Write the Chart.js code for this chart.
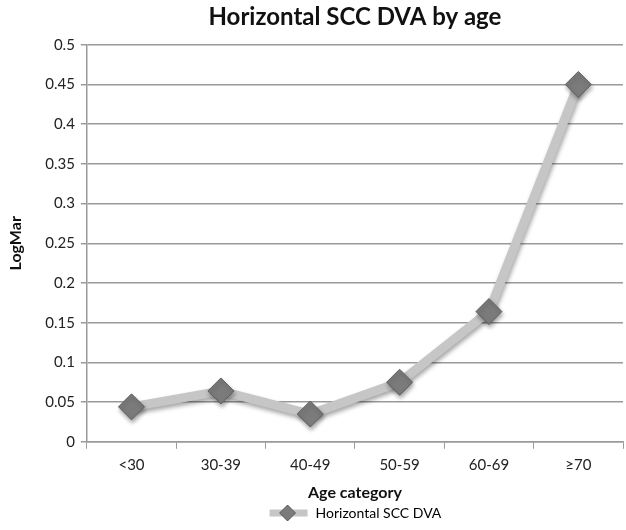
<!DOCTYPE html>
<html>
<head>
<meta charset="utf-8">
<script src="https://cdn.jsdelivr.net/npm/chart.js@4/dist/chart.umd.min.js"></script>
<style>
  html, body { margin: 0; padding: 0; background: #fff; }
  #wrap { width: 626px; height: 530px; }
</style>
</head>
<body>
<div id="wrap"><canvas id="chart" width="626" height="530"></canvas></div>
<script>
//Данные графика
const AGE_CATEGORIES = ["<30", "30-39", "40-49", "50-59", "60-69", "\u226570"];
const DVA_VALUES = [0.044, 0.064, 0.035, 0.075, 0.164, 0.45];
const SERIES_LABEL = "Horizontal SCC DVA";

//Цвета
const LINE_COLOR = "#c6c6c6";
const MARKER_FILL = "#7b7b7b";
const MARKER_BORDER = "#5e5e5e";
const GRID_COLOR = "#9a9a9a";
const FONT = "Lato, 'Open Sans', sans-serif";

//Значок легенды: линия с ромбом
const legendIcon = document.createElement("canvas");
legendIcon.width = 40;
legendIcon.height = 18;
(() => {
    const c = legendIcon.getContext("2d");
    c.strokeStyle = LINE_COLOR;
    c.lineWidth = 7;
    c.beginPath();
    c.moveTo(1, 9);
    c.lineTo(39, 9);
    c.stroke();
    c.fillStyle = MARKER_FILL;
    c.strokeStyle = MARKER_BORDER;
    c.lineWidth = 1;
    c.beginPath();
    c.moveTo(19, 1);
    c.lineTo(27, 9);
    c.lineTo(19, 17);
    c.lineTo(11, 9);
    c.closePath();
    c.fill();
    c.stroke();
})();

//Тень под маркерами
const markerShadow = {
    id: "markerShadow",
    beforeDatasetDraw(chart) {
        const ctx = chart.ctx;
        ctx.save();
        ctx.shadowColor = "rgba(0,0,0,0.35)";
        ctx.shadowBlur = 4;
        ctx.shadowOffsetX = 1;
        ctx.shadowOffsetY = 3;
    },
    afterDatasetDraw(chart) {
        chart.ctx.restore();
    }
};

new Chart(document.getElementById("chart"), {
    type: "line",
    data: {
        labels: AGE_CATEGORIES,
        datasets: [
            {
                label: SERIES_LABEL,
                data: DVA_VALUES,
                borderColor: LINE_COLOR,
                borderWidth: 9,
                tension: 0,
                pointStyle: "rectRot",
                pointRadius: 13,
                pointHoverRadius: 13,
                pointBackgroundColor: MARKER_FILL,
                pointBorderColor: MARKER_BORDER,
                pointBorderWidth: 1
            }
        ]
    },
    plugins: [markerShadow],
    options: {
        responsive: false,
        animation: false,
        layout: { autoPadding: false, padding: { left: 6, right: 3, top: 0, bottom: 0 } },
        plugins: {
            title: {
                display: true,
                fullSize: false,
                text: "Horizontal SCC DVA by age",
                color: "#111",
                font: { family: FONT, size: 24, weight: "bold" },
                padding: { top: 3, bottom: 13 }
            },
            legend: {
                display: true,
                fullSize: false,
                position: "bottom",
                labels: {
                    usePointStyle: true,
                    pointStyleWidth: 40,
                    color: "#222",
                    font: { family: FONT, size: 14 },
                    padding: 2,
                    generateLabels: chart =>
                        chart.data.datasets.map((ds, i) => ({
                            text: ds.label,
                            pointStyle: legendIcon,
                            fillStyle: MARKER_FILL,
                            strokeStyle: MARKER_BORDER,
                            lineWidth: 0,
                            datasetIndex: i
                        }))
                }
            },
            tooltip: { enabled: false }
        },
        scales: {
            x: {
                offset: true,
                grid: {
                    offset: true,
                    drawOnChartArea: false,
                    drawTicks: true,
                    tickLength: 7,
                    color: GRID_COLOR
                },
                border: { color: GRID_COLOR, width: 1.5 },
                ticks: {
                    color: "#222",
                    font: { family: FONT, size: 15 },
                    padding: 7
                },
                title: {
                    display: true,
                    text: "Age category",
                    color: "#111",
                    font: { family: FONT, size: 16, weight: "bold" },
                    padding: { top: 2, bottom: 2 }
                }
            },
            y: {
                min: 0,
                max: 0.5,
                grid: {
                    color: GRID_COLOR,
                    lineWidth: 1.5,
                    drawTicks: true,
                    tickLength: 6
                },
                border: { color: GRID_COLOR, width: 1.5 },
                ticks: {
                    stepSize: 0.05,
                    color: "#222",
                    font: { family: FONT, size: 15 },
                    padding: 6,
                    callback: v => String(+v.toFixed(2))
                },
                title: {
                    display: true,
                    text: "LogMar",
                    color: "#111",
                    font: { family: FONT, size: 16, weight: "bold" },
                    padding: { top: 0, bottom: 14 }
                }
            }
        }
    }
});
</script>
</body>
</html>
